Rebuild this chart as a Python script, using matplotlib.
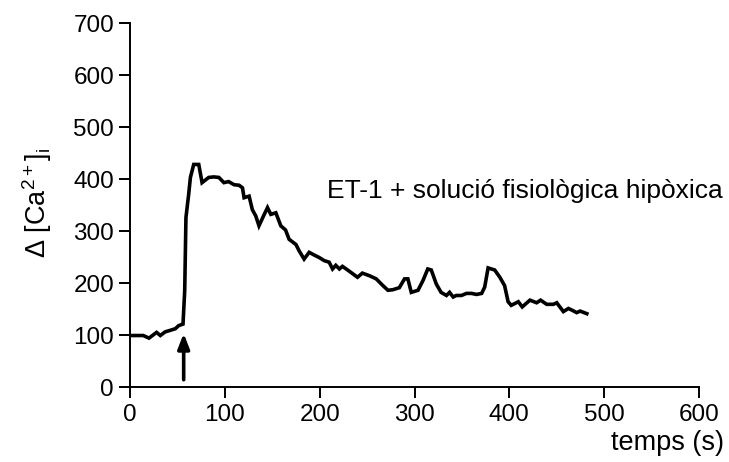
import matplotlib
matplotlib.use("Agg")
import matplotlib.pyplot as plt

plt.rcParams['font.family'] = ['Liberation Sans', 'DejaVu Sans']
plt.rcParams['mathtext.default'] = 'regular'

time_s = [3, 14, 20, 28, 32, 37, 42.5, 47.7, 51.3, 55.9, 57.7, 59, 61.9, 63.7, 67.2, 72.5,
          76, 83, 88.4, 93.7, 99, 104, 109.7, 115, 118.6, 120.3, 125.6, 129, 132.6, 136,
          140.8, 145, 148.5, 153.8, 159, 164, 167.8, 175, 178.3, 183.6, 188.9, 194, 199.5,
          204.8, 210, 213.6, 217, 220.8, 224, 231, 239.9, 245, 252.5, 259.6, 266.7, 272,
          277, 284, 289.5, 293, 296.6, 303.7, 309, 314, 317.7, 323, 328, 333.7, 337, 340.8,
          344, 349.5, 354.8, 360, 365.5, 370.8, 374, 377.6, 384.6, 390, 395, 398.7, 402,
          409.5, 413.6, 421.7, 428.8, 433, 439.4, 446.4, 450, 457, 462.3, 465.8, 471,
          474.7, 481.7]
calcium = [99, 99, 94, 105, 99, 106, 109, 112, 118, 121, 186, 326, 371, 403, 428, 428,
           393, 403, 404, 403, 393, 395, 389, 388, 383, 364, 367, 341, 329, 310,
           329, 345, 332, 335, 310, 302, 284, 274, 262, 246, 259, 254, 249,
           243, 240, 227, 234, 227, 232, 223, 211, 219, 214, 208, 195, 186,
           187, 191, 208, 208, 182, 186, 205, 227, 225, 198, 182, 176, 182, 173,
           176, 176, 180, 180, 178, 180, 192, 229, 225, 211, 195, 164, 157,
           164, 154, 167, 162, 167, 159, 159, 162, 145, 151, 148, 143,
           146, 141]

x_ticks = [0, 100, 200, 300, 400, 500, 600]
y_ticks = [0, 100, 200, 300, 400, 500, 600, 700]
arrow_time = 56.6
arrow_from, arrow_to = 14, 103
annotation = "ET-1 + solució fisiològica hipòxica"

fig = plt.figure(figsize=(7.29, 4.62), dpi=100)
ax = fig.add_axes([130/729, 1-387/462, (699-130)/729, (387-23)/462])

ax.plot(time_s, calcium, color='black', lw=2.6, solid_joinstyle='miter')
ax.set_xlim(0, 600)
ax.set_ylim(0, 700)
ax.set_xticks(x_ticks)
ax.set_yticks(y_ticks)
ax.spines['top'].set_visible(False)
ax.spines['right'].set_visible(False)
ax.spines['left'].set_linewidth(1.4)
ax.spines['bottom'].set_linewidth(1.4)
ax.tick_params(direction='out', length=8, width=1.4, labelsize=17.5, pad=3.5)
ax.tick_params(axis='x', pad=4)

ax.annotate('', xy=(arrow_time, arrow_to), xytext=(arrow_time, arrow_from),
            arrowprops=dict(arrowstyle='-|>,head_length=0.9,head_width=0.35',
                            color='black', lw=2.6, shrinkA=0, shrinkB=0))

ax.text(208, 377, annotation, fontsize=19, ha='left', va='center')

fig.text(724/729, 1-443/462, 'temps (s)', fontsize=19.5, ha='right', va='center')
fig.text(37/729, 1-203/462, r'Δ [Ca$^{2+}$]$_i$', fontsize=19.5, rotation=90,
         ha='center', va='center')

fig.savefig('out.png', dpi=100)
